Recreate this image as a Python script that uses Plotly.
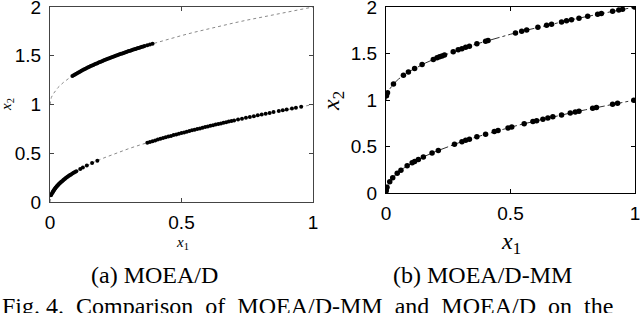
import plotly.graph_objects as go

# ---- reference Pareto-set curves ----
ps_x = [0, 0.002, 0.005, 0.01, 0.02, 0.03, 0.05, 0.07, 0.1, 0.13, 0.16, 0.2, 0.25, 0.3,
        0.35, 0.4, 0.45, 0.5, 0.55, 0.6, 0.65, 0.7, 0.75, 0.8, 0.85, 0.9, 0.95, 1.0]
ps_low_y = [0, 0.045, 0.071, 0.1, 0.141, 0.173, 0.224, 0.265, 0.316, 0.361, 0.4, 0.447, 0.5, 0.548,
            0.592, 0.632, 0.671, 0.707, 0.742, 0.775, 0.806, 0.837, 0.866, 0.894, 0.922, 0.949, 0.975, 1.0]
ps_up_y = [1.0, 1.045, 1.071, 1.1, 1.141, 1.173, 1.224, 1.265, 1.316, 1.361, 1.4, 1.447, 1.5, 1.548,
           1.592, 1.632, 1.671, 1.707, 1.742, 1.775, 1.806, 1.837, 1.866, 1.894, 1.922, 1.949, 1.975, 2.0]

# ---- (a) MOEA/D solutions ----
a_low_x = [0.003, 0.005, 0.008, 0.01, 0.012, 0.014, 0.016, 0.018, 0.02, 0.022, 0.025, 0.027, 0.03,
           0.032, 0.035, 0.037, 0.04, 0.043, 0.046, 0.05, 0.053, 0.057, 0.06, 0.064, 0.068, 0.072,
           0.076, 0.08, 0.085, 0.09, 0.095, 0.1, 0.115, 0.125, 0.14, 0.16, 0.18,
           0.37, 0.38, 0.39, 0.4, 0.41, 0.42, 0.43, 0.44, 0.45, 0.46, 0.47, 0.48, 0.49, 0.5, 0.51,
           0.52, 0.53, 0.54, 0.55, 0.56, 0.57, 0.58, 0.59, 0.6, 0.61, 0.62, 0.63, 0.64, 0.65, 0.66,
           0.67, 0.68, 0.69, 0.7, 0.715, 0.73, 0.745, 0.76, 0.775, 0.79, 0.805, 0.82, 0.835, 0.85,
           0.87, 0.885, 0.9, 0.92, 0.935, 0.955]
a_low_y = [0.07, 0.075, 0.089, 0.1, 0.11, 0.118, 0.126, 0.134, 0.141, 0.148, 0.158, 0.164, 0.173,
           0.179, 0.187, 0.192, 0.2, 0.207, 0.214, 0.224, 0.23, 0.239, 0.245, 0.253, 0.261, 0.268,
           0.276, 0.283, 0.292, 0.3, 0.308, 0.316, 0.339, 0.354, 0.374, 0.4, 0.424,
           0.608, 0.616, 0.624, 0.632, 0.64, 0.648, 0.656, 0.663, 0.671, 0.678, 0.686, 0.693, 0.7, 0.707, 0.714,
           0.721, 0.728, 0.735, 0.742, 0.748, 0.755, 0.762, 0.768, 0.775, 0.781, 0.787, 0.794, 0.8, 0.806, 0.812,
           0.819, 0.825, 0.831, 0.837, 0.846, 0.854, 0.863, 0.872, 0.88, 0.889, 0.897, 0.906, 0.914, 0.922,
           0.933, 0.941, 0.949, 0.959, 0.967, 0.977]
a_up_x = [0.085, 0.09, 0.095, 0.1, 0.105, 0.11, 0.115, 0.12, 0.125, 0.13, 0.135, 0.14, 0.145, 0.15,
          0.155, 0.16, 0.165, 0.17, 0.175, 0.18, 0.185, 0.19, 0.195, 0.2, 0.205, 0.21, 0.215, 0.22,
          0.225, 0.23, 0.235, 0.24, 0.245, 0.25, 0.255, 0.26, 0.265, 0.27, 0.275, 0.28, 0.285, 0.29,
          0.295, 0.3, 0.305, 0.31, 0.315, 0.32, 0.325, 0.33, 0.335, 0.34, 0.345, 0.35, 0.355, 0.36,
          0.37, 0.38, 0.39]
a_up_y = [1.292, 1.3, 1.308, 1.316, 1.324, 1.332, 1.339, 1.346, 1.354, 1.361, 1.367, 1.374, 1.381, 1.387,
          1.394, 1.4, 1.406, 1.412, 1.418, 1.424, 1.43, 1.436, 1.442, 1.447, 1.453, 1.458, 1.464, 1.469,
          1.474, 1.48, 1.485, 1.49, 1.495, 1.5, 1.505, 1.51, 1.515, 1.52, 1.524, 1.529, 1.534, 1.539,
          1.543, 1.548, 1.552, 1.557, 1.561, 1.566, 1.57, 1.574, 1.579, 1.583, 1.587, 1.592, 1.596, 1.6,
          1.608, 1.616, 1.624]

# ---- (b) MOEA/D-MM solutions ----
b_up_x = [0.002, 0.006, 0.03, 0.07, 0.09, 0.115, 0.145, 0.19, 0.205, 0.215, 0.225, 0.235, 0.27, 0.29,
          0.305, 0.32, 0.335, 0.365, 0.4, 0.41, 0.52, 0.545, 0.565, 0.61, 0.645, 0.665, 0.705, 0.725,
          0.745, 0.775, 0.81, 0.85, 0.865, 0.91, 0.935, 0.95, 0.998]
b_up_y = [1.045, 1.077, 1.173, 1.265, 1.3, 1.339, 1.381, 1.436, 1.453, 1.464, 1.474, 1.485, 1.52, 1.539,
          1.552, 1.566, 1.579, 1.604, 1.632, 1.64, 1.721, 1.738, 1.752, 1.781, 1.803, 1.815, 1.84, 1.851,
          1.863, 1.88, 1.9, 1.922, 1.93, 1.954, 1.967, 1.975, 1.999]
b_low_x = [0.0, 0.001, 0.004, 0.015, 0.027, 0.045, 0.06, 0.085, 0.105, 0.115, 0.13, 0.15, 0.185, 0.21,
           0.275, 0.305, 0.32, 0.335, 0.365, 0.4, 0.435, 0.45, 0.49, 0.505, 0.555, 0.59, 0.605, 0.63,
           0.65, 0.67, 0.705, 0.74, 0.76, 0.775, 0.83, 0.845, 0.91, 0.93, 0.995]
b_low_y = [0.02, 0.035, 0.063, 0.122, 0.164, 0.212, 0.245, 0.292, 0.324, 0.339, 0.361, 0.387, 0.43, 0.458,
           0.524, 0.552, 0.566, 0.579, 0.604, 0.632, 0.66, 0.671, 0.7, 0.711, 0.745, 0.768, 0.778, 0.794,
           0.806, 0.819, 0.84, 0.86, 0.872, 0.88, 0.911, 0.919, 0.954, 0.964, 0.997]

# ---- ticks / labels ----
x_tickvals = [0, 0.5, 1]
x_ticktext = ["0", "0.5", "1"]
y_tickvals = [0, 0.5, 1, 1.5, 2]
y_ticktext = ["0", "0.5", "1", "1.5", "2"]
sub_captions = ["(a) MOEA/D", "(b) MOEA/D-MM"]
fig_caption = "Fig. 4.  Comparison  of  MOEA/D-MM  and  MOEA/D  on  the"

W, H = 640, 313
fig = go.Figure()

# panel (a)
fig.add_trace(go.Scatter(x=ps_x, y=ps_low_y, mode="lines", xaxis="x", yaxis="y",
                         line=dict(color="#8a8a8a", width=1, dash="dot"), showlegend=False))
fig.add_trace(go.Scatter(x=ps_x, y=ps_up_y, mode="lines", xaxis="x", yaxis="y",
                         line=dict(color="#8a8a8a", width=1, dash="dot"), showlegend=False))
fig.add_trace(go.Scatter(x=a_low_x, y=a_low_y, mode="markers", xaxis="x", yaxis="y",
                         marker=dict(color="black", size=4), showlegend=False))
fig.add_trace(go.Scatter(x=a_up_x, y=a_up_y, mode="markers", xaxis="x", yaxis="y",
                         marker=dict(color="black", size=4), showlegend=False))
# panel (b)
fig.add_trace(go.Scatter(x=ps_x, y=ps_low_y, mode="lines", xaxis="x2", yaxis="y2",
                         line=dict(color="#333333", width=1, dash="dashdot"), showlegend=False))
fig.add_trace(go.Scatter(x=ps_x, y=ps_up_y, mode="lines", xaxis="x2", yaxis="y2",
                         line=dict(color="#333333", width=1, dash="dashdot"), showlegend=False))
fig.add_trace(go.Scatter(x=b_low_x, y=b_low_y, mode="markers", xaxis="x2", yaxis="y2",
                         marker=dict(color="black", size=5.5), showlegend=False))
fig.add_trace(go.Scatter(x=b_up_x, y=b_up_y, mode="markers", xaxis="x2", yaxis="y2",
                         marker=dict(color="black", size=5.5), showlegend=False))

tickfont = dict(family="Liberation Sans, Arial", size=19, color="black")


def xax(domain, anchor, color):
    return dict(domain=domain, anchor=anchor, range=[0, 1], tickmode="array",
                tickvals=x_tickvals, ticktext=x_ticktext, ticks="inside", ticklen=4,
                tickcolor=color, showline=True, linecolor=color, linewidth=1, mirror="allticks",
                showgrid=False, zeroline=False, tickfont=tickfont, ticklabelstandoff=3,
                automargin=False, ticklabeloverflow="allow")


def yax(domain, anchor, color):
    return dict(domain=domain, anchor=anchor, range=[0, 2], tickmode="array",
                tickvals=y_tickvals, ticktext=y_ticktext, ticks="inside", ticklen=4,
                tickcolor=color, showline=True, linecolor=color, linewidth=1, mirror="allticks",
                showgrid=False, zeroline=False, tickfont=tickfont, ticklabelstandoff=4,
                automargin=False, ticklabeloverflow="allow")


def px_x(p):
    return p / W


def px_y(p):
    return 1 - p / H


fig.update_layout(
    template="none",
    width=W, height=H, margin=dict(l=0, r=0, t=0, b=0, autoexpand=False),
    paper_bgcolor="white", plot_bgcolor="white",
    font=dict(color="black"),
    xaxis=xax([px_x(50), px_x(313)], "y", "#444444"),
    yaxis=yax([px_y(202), px_y(7)], "x", "#444444"),
    xaxis2=xax([px_x(386), px_x(635)], "y2", "black"),
    yaxis2=yax([px_y(193), px_y(7)], "x2", "black"),
)

serif = "Liberation Serif, Times New Roman, serif"
ann = [
    dict(text="<i>x</i><sub>1</sub>", x=px_x(182), y=px_y(243), font=dict(family=serif, size=15, color="black")),
    dict(text="<i>x</i><sub>2</sub>", x=px_x(7), y=px_y(105), textangle=-90,
         font=dict(family=serif, size=15, color="black")),
    dict(text="<i>x</i><sub>1</sub>", x=px_x(511), y=px_y(243), font=dict(family=serif, size=24, color="black")),
    dict(text="<i>x</i><sub>2</sub>", x=px_x(333), y=px_y(101), textangle=-90,
         font=dict(family=serif, size=24, color="black")),
    dict(text=sub_captions[0], x=px_x(154), y=px_y(275), font=dict(family=serif, size=24, color="black")),
    dict(text=sub_captions[1], x=px_x(482), y=px_y(275), font=dict(family=serif, size=24, color="black")),
    dict(text=fig_caption, x=px_x(0), y=px_y(316), xanchor="left", yanchor="bottom",
         font=dict(family=serif, size=24, color="black"), yshift=-5),
]
for a in ann:
    a.setdefault("xanchor", "center")
    a.setdefault("yanchor", "middle")
    fig.add_annotation(xref="paper", yref="paper", showarrow=False, **a)

fig.write_html("out.html", config={"displayModeBar": False},
               post_script="document.body.style.margin='0';")
